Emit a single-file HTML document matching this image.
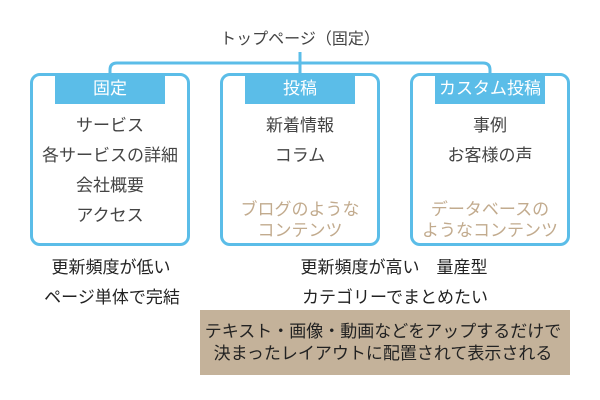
<!DOCTYPE html>
<html><head><meta charset="utf-8"><style>
body{margin:0;width:600px;height:400px;background:#fff;position:relative;overflow:hidden;font-family:"Liberation Sans","Noto Sans CJK JP",sans-serif;color:#444}
.t{position:absolute;white-space:nowrap;text-align:center;font-size:17px;line-height:20px}
.box{position:absolute;top:73px;width:154px;height:167px;border:3px solid #5bbde8;border-radius:10px;background:#fff}
.hd{position:absolute;top:73px;height:31px;background:#5bbde8;color:#fff;font-size:17px;line-height:31px;text-align:center}
.tan{color:#c2ab8e}
.b{font-size:17px;color:#222}
</style></head><body>
<svg width="600" height="400" style="position:absolute;left:0;top:0">
<path d="M110 75 V70 Q110 63 117 63 H483 Q490 63 490 70 V75" fill="none" stroke="#5bbde8" stroke-width="3"/>
<line x1="300" y1="52" x2="300" y2="75" stroke="#5bbde8" stroke-width="3"/>
</svg>
<div class="t" style="left:200px;width:200px;top:30px;font-size:16px">トップページ（固定）</div>
<div class="box" style="left:30px"></div>
<div class="box" style="left:220px"></div>
<div class="box" style="left:410px"></div>
<div class="hd" style="left:55px;width:110px">固定</div>
<div class="hd" style="left:245px;width:110px">投稿</div>
<div class="hd" style="left:435px;width:110px">カスタム投稿</div>
<div class="t" style="left:30px;width:160px;top:116px">サービス</div>
<div class="t" style="left:30px;width:160px;top:146px">各サービスの詳細</div>
<div class="t" style="left:30px;width:160px;top:176px">会社概要</div>
<div class="t" style="left:30px;width:160px;top:206px">アクセス</div>
<div class="t" style="left:220px;width:160px;top:116px">新着情報</div>
<div class="t" style="left:220px;width:160px;top:146px">コラム</div>
<div class="t tan" style="left:220px;width:160px;top:199px;line-height:21px">ブログのような<br>コンテンツ</div>
<div class="t" style="left:410px;width:160px;top:116px">事例</div>
<div class="t" style="left:410px;width:160px;top:146px">お客様の声</div>
<div class="t tan" style="left:410px;width:160px;top:199px;line-height:21px">データベースの<br>ようなコンテンツ</div>
<div class="t b" style="left:11px;width:200px;top:258px">更新頻度が低い</div>
<div class="t b" style="left:12px;width:200px;top:288px">ページ単体で完結</div>
<div class="t b" style="left:294px;width:200px;top:258px">更新頻度が高い　量産型</div>
<div class="t b" style="left:295px;width:200px;top:288px">カテゴリーでまとめたい</div>
<div style="position:absolute;left:200px;top:310px;width:370px;height:65px;background:#c4b29a"></div>
<div class="t b" style="left:200px;width:366px;top:321px;line-height:22px">テキスト・画像・動画などをアップするだけで<br>決まったレイアウトに配置されて表示される</div>
</body></html>
